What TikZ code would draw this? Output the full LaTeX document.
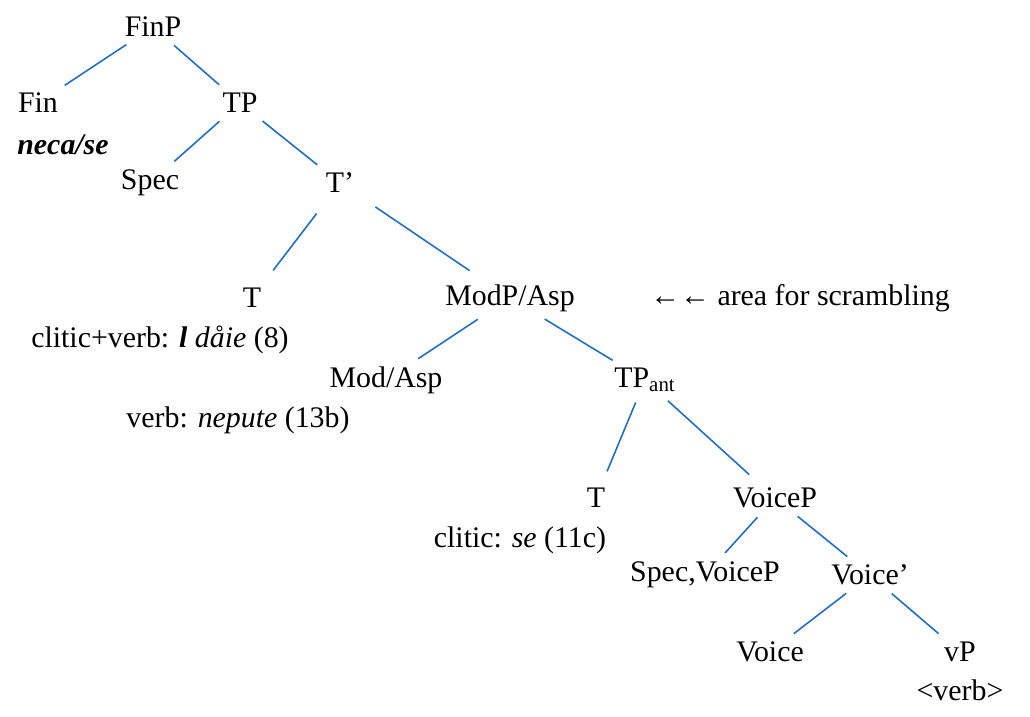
\documentclass[tikz,border=0pt]{standalone}
\usepackage{fontspec}
\setmainfont{Liberation Serif}
\usepackage{tikz}
\usetikzlibrary{positioning}
\definecolor{branch}{RGB}{30,110,200}
\tikzset{
  lbl/.style={font=\fontsize{17}{20}\selectfont, inner sep=2pt},
  edge/.style={draw=branch, line width=0.9pt, shorten <=4pt, shorten >=4pt}
}
\begin{document}
\begin{tikzpicture}[x=0.02cm, y=-0.02cm]
        \useasboundingbox (0,0) rectangle (1030,716);
        % Nodes
        \node[lbl] (finp) at (153,27) {FinP};
        \node[lbl] (fin) at (38,103) {Fin};
        \node[lbl, font=\fontsize{17}{20}\selectfont\bfseries\itshape] (finlex) at (63,145) {neca/se};
        \node[lbl] (tp) at (240,103) {TP};
        \node[lbl] (spec) at (150,183) {Spec};
        \node[lbl] (tbar) at (340,183) {T’};
        \node[lbl] (t) at (252,298) {T};
        \node[lbl] (tlex) at (160,340) {clitic+verb: \textbf{\textit{l}} \textit{dåie} (8)};
        \node[lbl] (modp) at (510,298) {ModP/Asp};
        \node[lbl] (scr) at (800,298) {←← area for scrambling};
        \node[lbl] (mod) at (386,380) {Mod/Asp};
        \node[lbl] (modlex) at (238,420) {verb: \textit{nepute} (13b)};
        \node[lbl] (tpant) at (645,380) {TP\textsubscript{ant}};
        \node[lbl] (tant) at (596,498) {T};
        \node[lbl] (tantlex) at (520,540) {clitic: \textit{se} (11c)};
        \node[lbl] (voicep) at (775,498) {VoiceP};
        \node[lbl] (specv) at (705,575) {Spec,VoiceP};
        \node[lbl] (voicebar) at (870,575) {Voice’};
        \node[lbl] (voice) at (770,652) {Voice};
        \node[lbl] (vp) at (960,652) {vP};
        \node[lbl] (vplex) at (960,690) {<verb>};

        % Branches
        \draw[edge] (finp) -- (fin);
        \draw[edge] (finp) -- (tp);
        \draw[edge] (tp) -- (spec);
        \draw[edge] (tp) -- (tbar);
        \draw[edge, shorten <=12pt, shorten >=10pt] (tbar) -- (t);
        \draw[edge, shorten <=12pt, shorten >=10pt] (tbar) -- (modp);
        \draw[edge] (modp) -- (mod);
        \draw[edge] (modp) -- (tpant);
        \draw[edge, shorten >=8pt] (tpant) -- (tant);
        \draw[edge, shorten >=8pt] (tpant) -- (voicep);
        \draw[edge] (voicep) -- (specv);
        \draw[edge] (voicep) -- (voicebar);
        \draw[edge] (voicebar) -- (voice);
        \draw[edge] (voicebar) -- (vp);
\end{tikzpicture}
\end{document}
